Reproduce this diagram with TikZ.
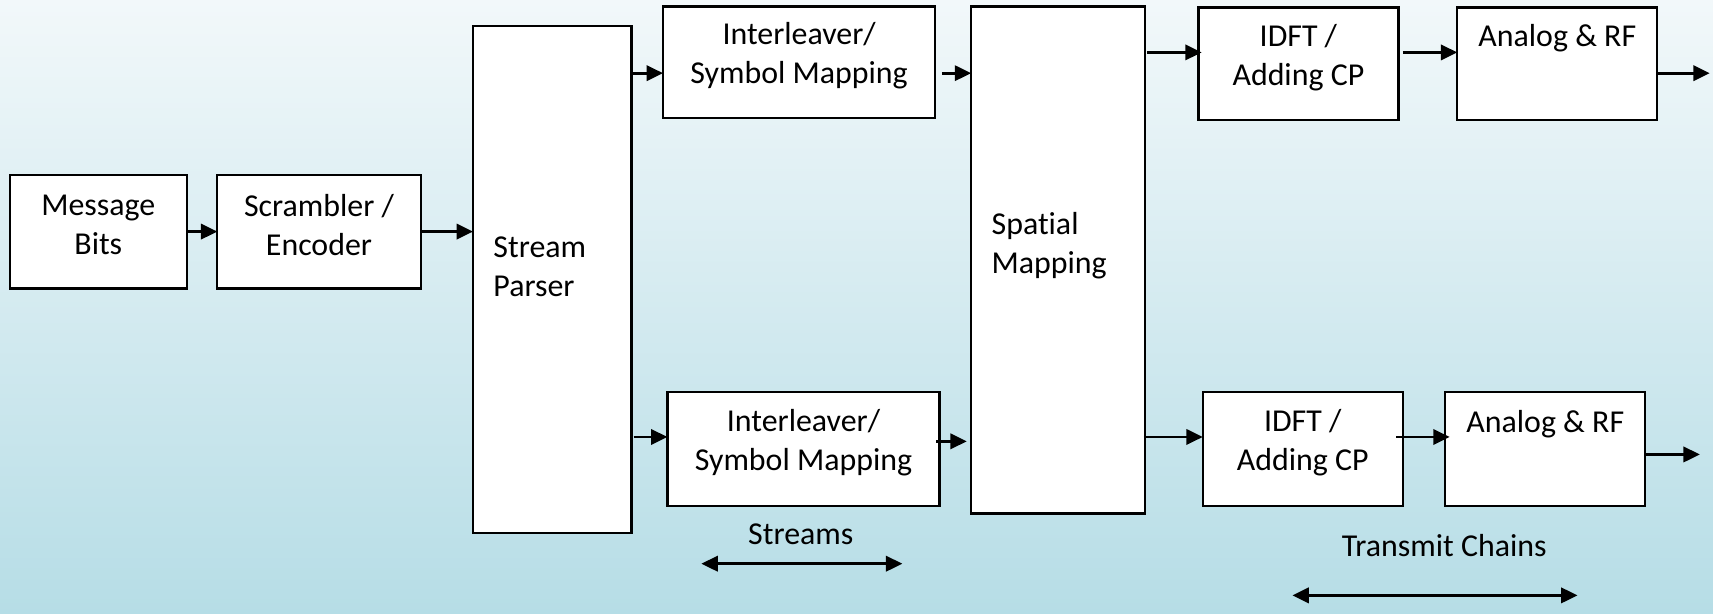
\documentclass[tikz,border=0pt]{standalone}
\usepackage{fontspec}
\setmainfont[Ligatures=NoCommon]{Carlito}
\usetikzlibrary{arrows.meta,calc}
\definecolor{bgtop}{RGB}{242,248,250}
\definecolor{bgbot}{RGB}{182,221,230}
\tikzset{
  blk/.style={draw=black, line width=0.6pt, fill=white, inner sep=0pt, outer sep=0pt},
  lbl/.style={font=\fontsize{8.3}{10.2}\selectfont, align=center, inner sep=0pt},
  lbll/.style={font=\fontsize{8.3}{10.2}\selectfont, align=left, inner sep=0pt, anchor=west},
  arr/.style={line width=0.7pt, -{Triangle[length=0.15cm,width=0.14cm]}},
  darr/.style={line width=0.7pt, {Triangle[length=0.15cm,width=0.14cm]}-{Triangle[length=0.15cm,width=0.14cm]}}
}
\begin{document}
\begin{tikzpicture}[x=0.01cm,y=-0.01cm]
\shade[top color=bgtop, bottom color=bgbot] (0,0) rectangle (1568,562);
\useasboundingbox (0,0) rectangle (1568,562);
% boxes
\node[blk, minimum width=1.62cm, minimum height=1.04cm] (msg) at (90,212) {};
\node[blk, minimum width=1.86cm, minimum height=1.04cm] (scr) at (292,212) {};
\node[blk, minimum width=1.45cm, minimum height=4.64cm] (par) at (505.5,256) {};
\node[blk, minimum width=2.49cm, minimum height=1.02cm] (ila) at (731.5,57) {};
\node[blk, minimum width=2.49cm, minimum height=1.04cm] (ilb) at (735.5,411) {};
\node[blk, minimum width=1.59cm, minimum height=4.64cm] (spm) at (968.5,238) {};
\node[blk, minimum width=1.83cm, minimum height=1.03cm] (ida) at (1188.5,58.5) {};
\node[blk, minimum width=1.83cm, minimum height=1.03cm] (ana) at (1425.5,58.5) {};
\node[blk, minimum width=1.83cm, minimum height=1.04cm] (idb) at (1192.5,411) {};
\node[blk, minimum width=1.83cm, minimum height=1.04cm] (anb) at (1414.5,411) {};
% texts
\node[lbl] (tmsg) at (90,206) {Message\\Bits};
\node[lbl] (tscr) at (292,206) {Scrambler /\\Encoder};
\node[lbll] (tpar) at (451,244) {Stream\\Parser};
\node[lbl] (tila) at (731.5,51) {Interleaver/\\Symbol Mapping};
\node[lbl] (tilb) at (735.5,405) {Interleaver/\\Symbol Mapping};
\node[lbll] (tspm) at (907,225) {Spatial\\Mapping};
\node[lbl] (tida) at (1188.5,53) {IDFT /\\Adding CP};
\node[lbl] (tidb) at (1192.5,405) {IDFT /\\Adding CP};
\node[lbl] (tana) at (1425.5,35) {Analog \& RF};
\node[lbl] (tanb) at (1414.5,388) {Analog \& RF};
\node[lbl] (tstr) at (733,489) {Streams};
\node[lbl] (ttx) at (1322,499) {Transmit Chains};
% free ends
\coordinate (outa) at (1565,67);
\coordinate (outb) at (1556,416);
\coordinate (sl) at (642,516);
\coordinate (sr) at (826,516);
\coordinate (tl) at (1183,545);
\coordinate (tr) at (1444,545);
% connectors
\draw[arr] (msg.east |- 0,212) -- (scr.west |- 0,212);
\draw[arr] (scr.east |- 0,212) -- (par.west |- 0,212);
\draw[arr] (par.east |- 0,67) -- (ila.west |- 0,67);
\draw[arr] ($(par.east |- 0,400)+(2,0)$) -- (ilb.west |- 0,400);
\draw[arr] ($(ila.east |- 0,67)+(6,0)$) -- (spm.west |- 0,67);
\draw[arr] ($(ilb.east |- 0,404)+(-3,0)$) -- ($(spm.west |- 0,404)+(-4,0)$);
\draw[arr] ($(spm.east |- 0,48)+(2,0)$) -- ($(ida.west |- 0,48)+(3,0)$);
\draw[arr] ($(spm.east |- 0,400)+(-1,0)$) -- (idb.west |- 0,400);
\draw[arr] ($(ida.east |- 0,48)+(4,0)$) -- (ana.west |- 0,48);
\draw[arr] ($(idb.east |- 0,400)+(-6,0)$) -- ($(anb.west |- 0,400)+(4,0)$);
\draw[arr] (ana.east |- outa) -- (outa);
\draw[arr] (anb.east |- outb) -- (outb);
\draw[darr] (sl) -- (sr);
\draw[darr] (tl) -- (tr);
\end{tikzpicture}
\end{document}
